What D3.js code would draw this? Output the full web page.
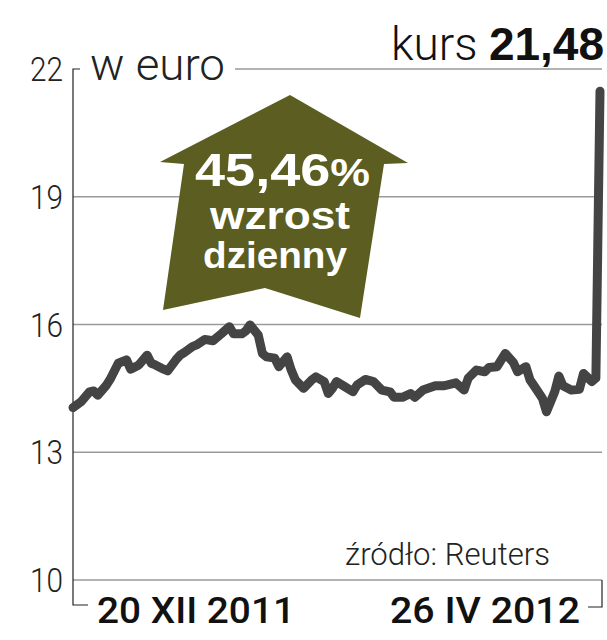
<!DOCTYPE html>
<html>
  <head>
    <script src="https://d3js.org/d3.v7.min.js"></script>
    <style>
      body {margin: 0; background: #fff;}
      svg text {font-family: Roboto, 'DejaVu Sans Condensed', sans-serif; font-weight: 300;}
      #grid line {stroke: #9a9a9a; stroke-width: 1.5;}
      #frame path {fill: none; stroke: #222; stroke-width: 1.2;}
      #series path {fill: none; stroke: #444; stroke-width: 9; stroke-linejoin: round; stroke-linecap: round;}
      .heavy {font-family: 'Liberation Sans', sans-serif !important; font-weight: bold !important;}
    </style>
  </head>
  <body>
    <svg id="chart" width="607" height="640">
      <g id="grid"/>
      <g id="frame"/>
      <g id="badge"/>
      <g id="series"/>
      <g id="labels"/>
    </svg>
  <script>
      // notowania
      let dates = ["2011-12-20","2011-12-22","2011-12-24","2011-12-25","2011-12-26","2011-12-28","2011-12-29","2011-12-31",
          "2012-01-02","2012-01-03","2012-01-05","2012-01-07","2012-01-08","2012-01-09","2012-01-11","2012-01-12",
          "2012-01-14","2012-01-15","2012-01-16","2012-01-18","2012-01-19","2012-01-21","2012-01-23","2012-01-25",
          "2012-01-27","2012-01-28","2012-01-30","2012-01-31","2012-02-01","2012-02-03","2012-02-04","2012-02-05",
          "2012-02-07","2012-02-08","2012-02-10","2012-02-11","2012-02-12","2012-02-14","2012-02-16","2012-02-17",
          "2012-02-19","2012-02-20","2012-02-21","2012-02-22","2012-02-24","2012-02-26","2012-02-27","2012-02-29",
          "2012-03-02","2012-03-04","2012-03-06","2012-03-07","2012-03-09","2012-03-11","2012-03-12","2012-03-14",
          "2012-03-17","2012-03-19","2012-03-20","2012-03-22","2012-03-24","2012-03-25","2012-03-27","2012-03-29",
          "2012-03-30","2012-04-01","2012-04-03","2012-04-05","2012-04-06","2012-04-08","2012-04-09","2012-04-10",
          "2012-04-12","2012-04-13","2012-04-15","2012-04-16","2012-04-17","2012-04-19","2012-04-21","2012-04-22",
          "2012-04-24","2012-04-25","2012-04-26"];
      let prices = [14.05,14.19,14.42,14.44,14.34,14.56,14.71,15.09,
          15.17,14.95,15.05,15.28,15.09,15.05,14.95,14.91,
          15.17,15.28,15.34,15.48,15.52,15.65,15.62,15.78,
          15.95,15.78,15.78,15.85,15.99,15.75,15.32,15.24,
          15.21,15.01,15.24,14.93,14.70,14.50,14.70,14.77,
          14.66,14.38,14.50,14.66,14.54,14.42,14.58,14.71,
          14.66,14.46,14.42,14.29,14.29,14.38,14.29,14.46,
          14.56,14.56,14.58,14.63,14.46,14.74,14.93,14.89,
          14.99,15.01,15.32,15.10,14.89,15.01,14.70,14.56,
          14.27,13.95,14.42,14.79,14.56,14.46,14.48,14.85,
          14.66,14.74,21.48];
      let yTicks = [10, 13, 16, 19, 22];
      let xLabels = ["20 XII 2011", "26 IV 2012"];
      let lastPrice = "21,48";
      let dailyChange = "45,46";

      let svg = d3.select("#chart");
      let parseDate = d3.timeParse("%Y-%m-%d");
      let data = dates.map((d, i) => ({date: parseDate(d), price: prices[i]}));

      let x = d3.scaleTime().domain([parseDate(dates[0]), parseDate(dates[dates.length - 1])]).range([73, 600]);
      let y = d3.scaleLinear().domain([10, 22]).range([580, 69]);
      let left = 73, right = 602, bottom = 605;

      // linie siatki
      d3.select("#grid").selectAll("line").data(yTicks).enter().append("line")
          .attr("x1", d => d === 22 ? 235 : left).attr("x2", right)
          .attr("y1", d => y(d)).attr("y2", d => y(d));

      d3.select("#labels").selectAll("text.tick").data(yTicks).enter().append("text")
          .attr("class", "tick").attr("x", 63).attr("y", d => y(d) + 12)
          .attr("text-anchor", "end").attr("font-size", 34).attr("fill", "#222")
          .attr("textLength", 33).attr("lengthAdjust", "spacingAndGlyphs")
          .text(d => d);

      // oś i nawiasy
      let frame = d3.select("#frame");
      frame.append("path").attr("d", `M${left + 7},${y(22)}H${left}V${bottom}H${left + 15}`);
      frame.append("path").attr("d", `M${right - 14},${bottom + 2}H${right}V${y(10)}`);

      // strzałka
      let arrow = [[290, 95], [408, 163], [384, 164], [360, 318], [265, 288], [163, 310], [184, 164], [160, 162]];
      let badge = d3.select("#badge");
      badge.append("path").attr("d", d3.line()(arrow) + "Z").attr("fill", "#5b5d21");
      let bt = badge.append("text").attr("class", "heavy").attr("x", 195).attr("y", 186)
          .attr("fill", "#fff").attr("font-size", 46)
          .attr("textLength", 175).attr("lengthAdjust", "spacingAndGlyphs");
      bt.append("tspan").text(dailyChange);
      bt.append("tspan").attr("font-size", 38).text("%");
      badge.append("text").attr("class", "heavy").attr("x", 210).attr("y", 229)
          .attr("fill", "#fff").attr("font-size", 39)
          .attr("textLength", 140).attr("lengthAdjust", "spacingAndGlyphs").text("wzrost");
      badge.append("text").attr("class", "heavy").attr("x", 203).attr("y", 268)
          .attr("fill", "#fff").attr("font-size", 37)
          .attr("textLength", 144).attr("lengthAdjust", "spacingAndGlyphs").text("dzienny");

      // kurs
      let line = d3.line().x(d => x(d.date)).y(d => y(d.price));
      d3.select("#series").append("path").datum(data).attr("d", line);

      let labels = d3.select("#labels");
      labels.append("text").attr("x", 90).attr("y", 80).attr("font-size", 44).attr("fill", "#222")
          .attr("textLength", 135).attr("lengthAdjust", "spacingAndGlyphs").text("w euro");
      let title = labels.append("text").attr("x", 604).attr("y", 60).attr("text-anchor", "end").attr("fill", "#111");
      title.append("tspan").attr("font-size", 46).text("kurs ");
      title.append("tspan").attr("class", "heavy").attr("font-size", 46).text(lastPrice);

      labels.append("text").attr("x", 345).attr("y", 565)
          .attr("font-size", 31).attr("fill", "#222")
          .attr("textLength", 205).attr("lengthAdjust", "spacingAndGlyphs").text("źródło: Reuters");

      labels.selectAll("text.date").data(xLabels).enter().append("text")
          .attr("class", "date").attr("x", (d, i) => i === 0 ? 97 : 390).attr("y", 623)
          .attr("font-size", 37).attr("fill", "#111")
          .style("font-weight", 500)
          .attr("textLength", (d, i) => i === 0 ? 198 : 190).attr("lengthAdjust", "spacingAndGlyphs")
          .text(d => d);
  </script>
  </body>
</html>
